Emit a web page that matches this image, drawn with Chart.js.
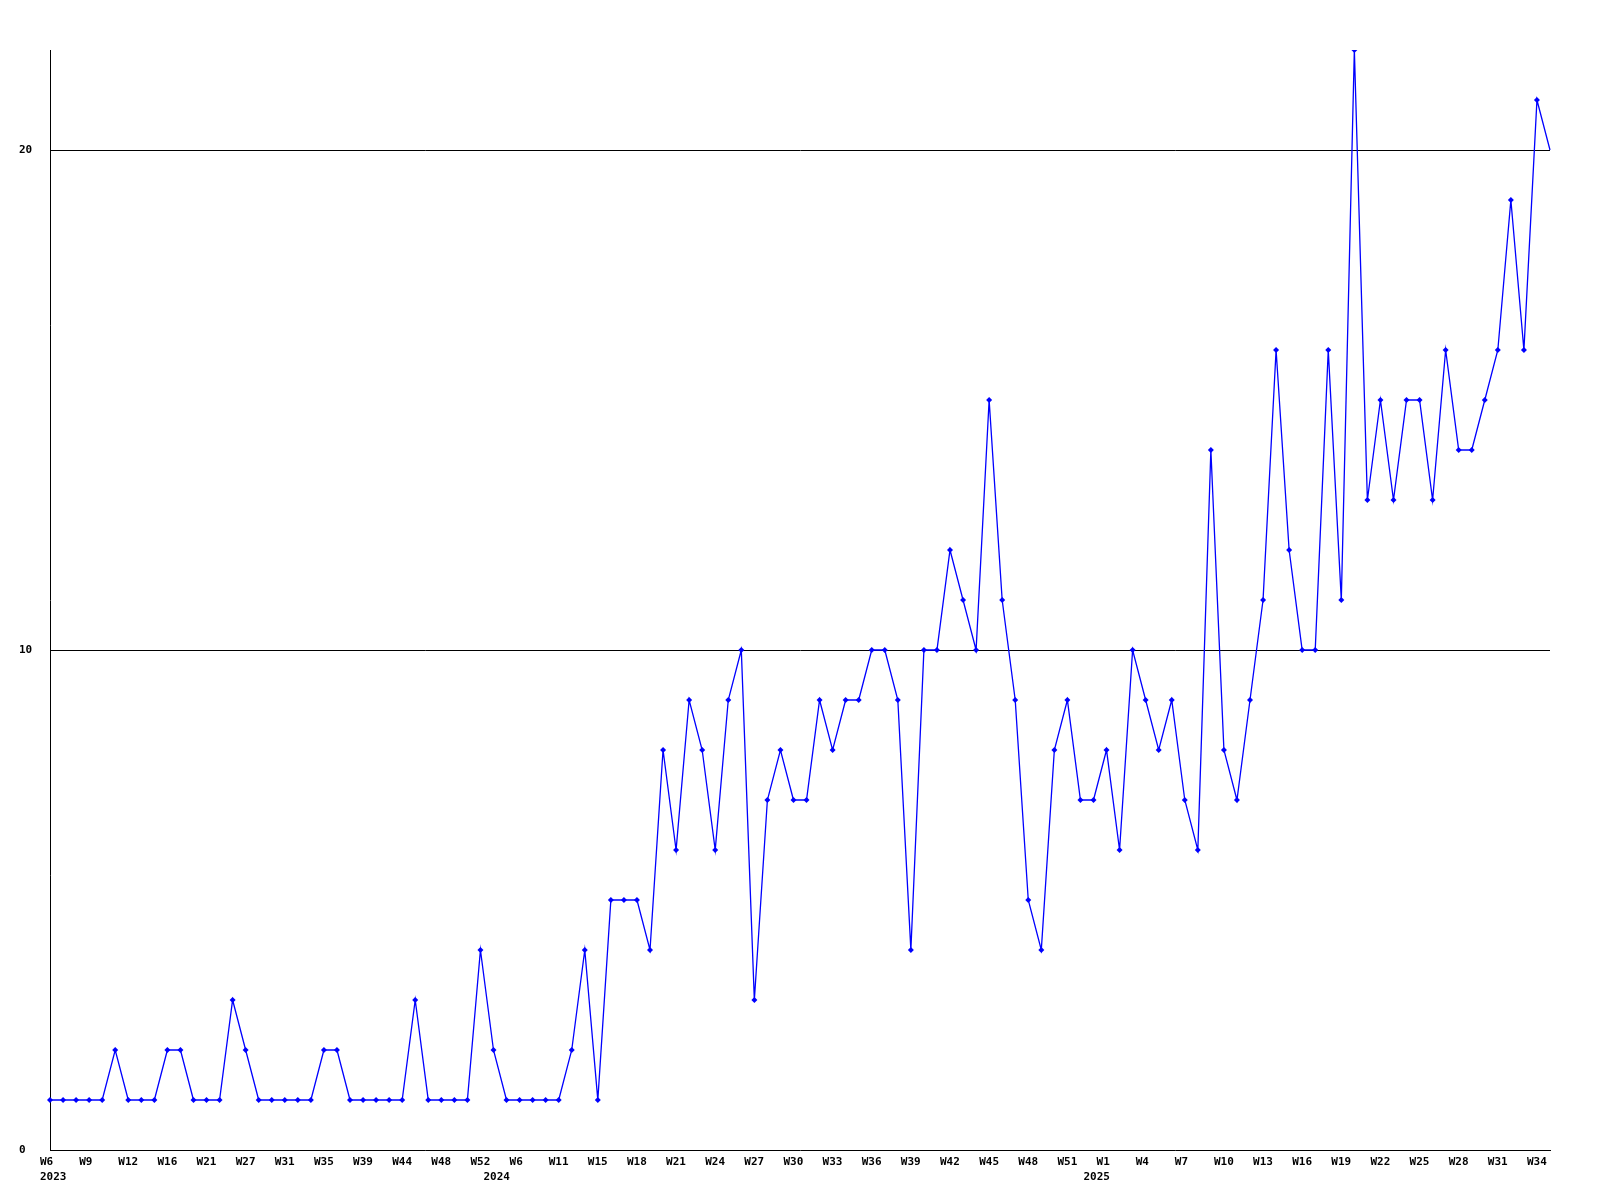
<!DOCTYPE html>
<html>
<head>
<meta charset="utf-8">
<script src="https://cdn.jsdelivr.net/npm/chart.js@4/dist/chart.umd.min.js"></script>
<style>
    html, body { margin: 0; padding: 0; background: #fff; }
    #wrap { width: 1600px; height: 1200px; position: relative; }
</style>
</head>
<body>
<div id="wrap"><canvas id="chart"></canvas></div>
<script>
// week of each point
const weeks = [
    "W6", "W7", "W8", "W9", "W10", "W11", "W12", "W13", "W15", "W16",
    "W17", "W19", "W21", "W23", "W25", "W27", "W28", "W30", "W31", "W32",
    "W34", "W35", "W36", "W38", "W39", "W41", "W43", "W44", "W45", "W47",
    "W48", "W49", "W51", "W52", "W1", "W3", "W6", "W8", "W10", "W11",
    "W12", "W14", "W15", "W16", "W17", "W18", "W19", "W20", "W21", "W22",
    "W23", "W24", "W25", "W26", "W27", "W28", "W29", "W30", "W31", "W32",
    "W33", "W34", "W35", "W36", "W37", "W38", "W39", "W40", "W41", "W42",
    "W43", "W44", "W45", "W46", "W47", "W48", "W49", "W50", "W51", "W52",
    "W53", "W1", "W2", "W3", "W4", "W5", "W6", "W7", "W8", "W9",
    "W10", "W11", "W12", "W13", "W14", "W15", "W16", "W17", "W18", "W19",
    "W20", "W21", "W22", "W23", "W24", "W25", "W26", "W27", "W28", "W29",
    "W30", "W31", "W32", "W33", "W34", "W35"
]

// where each year starts
const yearIndex = [0, 34, 80]
const yearNames = ["2023", "2024", "2025"]

const counts = [
    1, 1, 1, 1, 1, 2, 1, 1, 1, 2,
    2, 1, 1, 1, 3, 2, 1, 1, 1, 1,
    1, 2, 2, 1, 1, 1, 1, 1, 3, 1,
    1, 1, 1, 4, 2, 1, 1, 1, 1, 1,
    2, 4, 1, 5, 5, 5, 4, 8, 6, 9,
    8, 6, 9, 10, 3, 7, 8, 7, 7, 9,
    8, 9, 9, 10, 10, 9, 4, 10, 10, 12,
    11, 10, 15, 11, 9, 5, 4, 8, 9, 7,
    7, 8, 6, 10, 9, 8, 9, 7, 6, 14,
    8, 7, 9, 11, 16, 12, 10, 10, 16, 11,
    22, 13, 15, 13, 15, 15, 13, 16, 14, 14,
    15, 16, 19, 16, 21, 20
]

const yTicks = [0, 10, 20]

const font = { family: "'DejaVu Sans Mono', monospace", size: 11, weight: "bold", lineHeight: "15px" }

new Chart(document.getElementById("chart"), {
    type: "line",
    data: {
        labels: weeks,
        datasets: [{
            data: counts,
            borderColor: "#0000ff",
            backgroundColor: "#0000ff",
            borderWidth: 1.3,
            tension: 0,
            fill: false,
            pointStyle: "rectRot",
            // last point has no marker
            pointRadius: ctx => ctx.dataIndex === counts.length - 1 ? 0 : 3,
            pointBorderWidth: 0
        }]
    },
    options: {
        responsive: true,
        maintainAspectRatio: false,
        animation: false,
        layout: {
            padding: { left: 19, right: 50, top: 50, bottom: 0 }
        },
        plugins: {
            legend: { display: false },
            tooltip: { enabled: false }
        },
        scales: {
            x: {
                offset: false,
                grid: { color: "rgba(0,0,0,0)", drawTicks: false },
                border: { color: "#000", width: 1 },
                afterFit: scale => { scale.height = 50 },
                ticks: {
                    autoSkip: false,
                    maxRotation: 0,
                    minRotation: 0,
                    align: "start",
                    labelOffset: -10,
                    padding: 5,
                    color: "#000",
                    font: font,
                    callback: (val, i) => {
                        const w = i % 3 === 0 ? weeks[i] : ""
                        const y = yearIndex.indexOf(i)
                        if (y >= 0) return [w, yearNames[y]]
                        return w
                    }
                }
            },
            y: {
                min: 0,
                max: 22,
                grid: {
                    color: ctx => ctx.tick && ctx.tick.value === 0 ? "rgba(0,0,0,0)" : "#000",
                    lineWidth: 1,
                    drawTicks: false
                },
                border: { color: "#000", width: 1 },
                afterFit: scale => { scale.width = 31 },
                afterBuildTicks: scale => {
                    scale.ticks = yTicks.map(v => ({ value: v }))
                },
                ticks: {
                    crossAlign: "far",
                    padding: 0,
                    color: "#000",
                    font: font
                }
            }
        }
    }
})
</script>
</body>
</html>
